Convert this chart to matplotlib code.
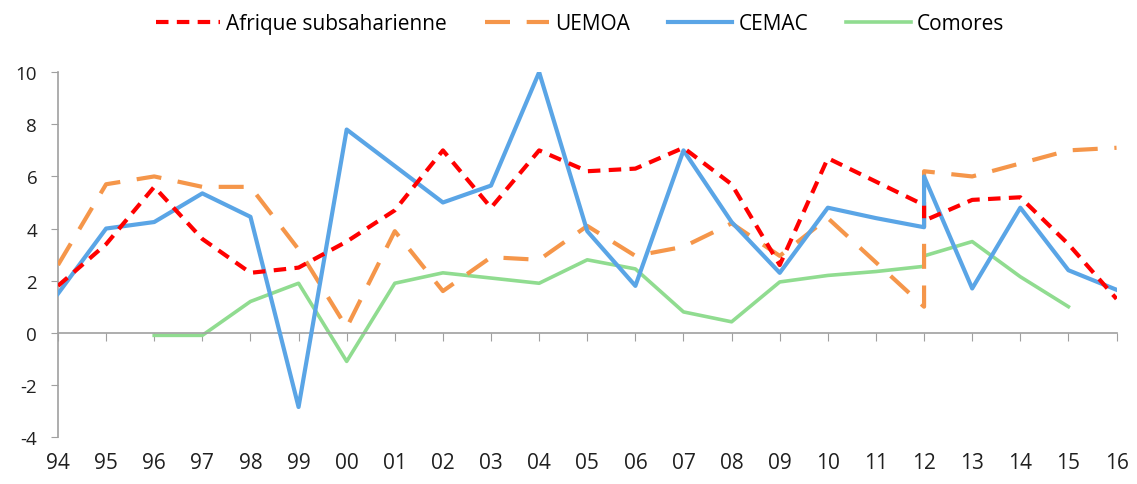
import numpy as np
import matplotlib
matplotlib.use("Agg")
import matplotlib.pyplot as plt

plt.rcParams['font.family'] = ['Open Sans', 'DejaVu Sans']
plt.rcParams['axes.unicode_minus'] = False

# axis categories
years = ['94', '95', '96', '97', '98', '99', '00', '01', '02', '03', '04',
         '05', '06', '07', '08', '09', '10', '11', '12', '13', '14', '15', '16']
# observation points (the source repeats 2012 with a second value)
obs = ['94', '95', '96', '97', '98', '99', '00', '01', '02', '03', '04',
       '05', '06', '07', '08', '09', '10', '11', '12', '12', '13', '14', '15', '16']

afrique = [1.8, 3.4, 5.6, 3.6, 2.3, 2.5, 3.5, 4.7, 7.0, 4.8, 7.0,
           6.2, 6.3, 7.1, 5.7, 2.6, 6.7, 5.8, 4.9, 4.3, 5.1, 5.2, 3.4, 1.3]
uemoa = [2.6, 5.7, 6.0, 5.6, 5.6, 3.2, 0.2, 3.9, 1.6, 2.9, 2.8,
         4.1, 2.95, 3.3, 4.2, 2.95, 4.4, 2.7, 1.0, 6.2, 6.0, 6.5, 7.0, 7.1]
cemac = [1.5, 4.0, 4.25, 5.35, 4.45, -2.85, 7.8, 6.4, 5.0, 5.65, 10.0,
         3.9, 1.8, 7.0, 4.25, 2.3, 4.8, 4.4, 4.05, 6.0, 1.7, 4.8, 2.4, 1.65]
comores = [np.nan, np.nan, -0.1, -0.1, 1.2, 1.9, -1.1, 1.9, 2.3, 2.1, 1.9,
           2.8, 2.45, 0.8, 0.42, 1.95, 2.2, 2.35, 2.55, 2.95, 3.5, 2.15, 1.0, np.nan]

x = [years.index(o) for o in obs]

fig = plt.figure(figsize=(11.37, 4.85), dpi=100)
ax = fig.add_axes([0.051, 0.097, 0.931, 0.752])

l_af, = ax.plot(x, afrique, color='#FF0000', lw=3, dashes=(3, 2), label='Afrique subsaharienne', zorder=5)
l_ue, = ax.plot(x, uemoa, color='#F5964A', lw=3, dashes=(6, 4), label='UEMOA', zorder=3)
l_ce, = ax.plot(x, cemac, color='#5AA5E6', lw=3, label='CEMAC', zorder=4)
l_co, = ax.plot(x, comores, color='#90DC90', lw=2.6, label='Comores', zorder=2)

ax.set_xlim(0, len(years) - 1)
ax.set_ylim(-4, 10)
ax.set_yticks(np.arange(-4, 11, 2))
ax.tick_params(axis='y', length=5, color='#A0A0A0', labelsize=13.5, labelcolor='#202020', pad=10)

for s in ['top', 'right']:
    ax.spines[s].set_visible(False)
ax.spines['left'].set_color('#A0A0A0')
ax.spines['left'].set_linewidth(1.2)
ax.spines['bottom'].set_position(('data', 0))
ax.spines['bottom'].set_color('#A0A0A0')
ax.spines['bottom'].set_linewidth(1.2)
ax.set_xticks(range(len(years)))
ax.set_xticklabels([])
ax.tick_params(axis='x', length=6, color='#A0A0A0', direction='out')

# year labels at the bottom of the plot
sec = ax.secondary_xaxis('bottom')
sec.set_xticks(range(len(years)))
sec.set_xticklabels(years)
sec.spines['bottom'].set_visible(False)
sec.tick_params(axis='x', length=0, labelsize=15, labelcolor='#202020', pad=11)

fig.legend(handles=[l_af, l_ue, l_ce, l_co], loc='upper center', ncol=4,
           bbox_to_anchor=(0.51, 1.01), frameon=False, fontsize=15,
           handlelength=3.1, handletextpad=0.3, columnspacing=1.8)

fig.savefig('out.png', dpi=100)
